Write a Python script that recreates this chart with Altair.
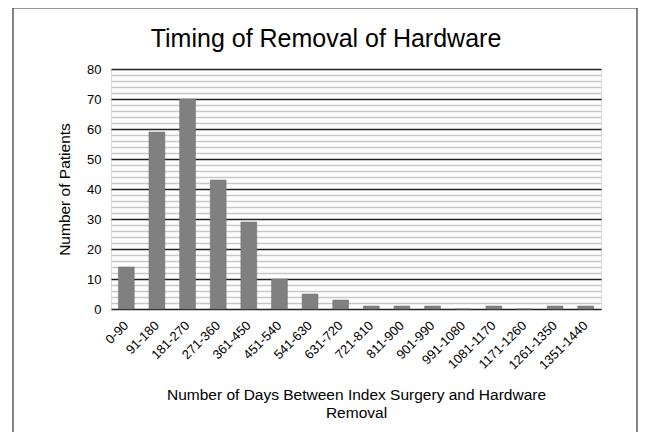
import altair as alt
import pandas as pd

categories = ["0-90", "91-180", "181-270", "271-360", "361-450", "451-540",
              "541-630", "631-720", "721-810", "811-900", "901-990", "991-1080",
              "1081-1170", "1171-1260", "1261-1350", "1351-1440"]
patients = [14, 59, 70, 43, 29, 10, 5, 3, 1, 1, 1, 0, 1, 0, 1, 1]
y_ticks = list(range(0, 81, 2))
chart_title = ["Timing of Removal of Hardware"]

df = pd.DataFrame({"range": categories, "count": patients})
FONT = "Liberation Sans"

bars = alt.Chart(df).mark_bar(color="#808080", stroke="#707070", strokeWidth=0.5).encode(
    x=alt.X("range:N", sort=categories,
            scale=alt.Scale(paddingInner=0.48, paddingOuter=0.24),
            axis=alt.Axis(title=["Number of Days Between Index Surgery and Hardware", "Removal"],
                          labelAngle=-45, labelAlign="right", labelBaseline="middle",
                          labelFontSize=13, labelPadding=14, ticks=False, domain=False,
                          titleFontSize=15.5, titleFontWeight="normal", titlePadding=16,
                          labelColor="#000", titleColor="#000", labelFont=FONT, titleFont=FONT)),
    y=alt.Y("count:Q", scale=alt.Scale(domain=[0, 80], nice=False),
            axis=alt.Axis(title="Number of Patients", values=y_ticks,
                          labelExpr="datum.value % 10 === 0 ? datum.label : ''",
                          labelOverlap=False, labelFontSize=13, labelPadding=10,
                          ticks=False, domain=False,
                          grid=True,
                          gridColor={"condition": {"test": "datum.value % 10 === 0", "value": "#222222"}, "value": "#c8c8c8"},
                          gridWidth={"condition": {"test": "datum.value % 10 === 0", "value": 1.5}, "value": 1.5},
                          titleFontSize=15.5, titleFontWeight="normal", titlePadding=14,
                          labelColor="#000", titleColor="#000", labelFont=FONT, titleFont=FONT)),
)

frame = alt.Chart(pd.DataFrame({"a": [0]})).mark_rect(fill=None, stroke="#333333", strokeWidth=1.2, clip=False).encode(
    x=alt.value(-98), x2=alt.value(526), y=alt.value(-61), y2=alt.value(400)
)

title = alt.Chart(pd.DataFrame({"t": chart_title})).mark_text(
    font=FONT, fontSize=25, color="#000", align="center", baseline="alphabetic"
).encode(text="t:N", x=alt.value(215), y=alt.value(-22))

chart = alt.layer(frame, bars, title).properties(
    width=490, height=240,
    autosize=alt.AutoSizeParams(type="none"),
    padding={"left": 103, "top": 61, "right": 37, "bottom": 123},
).configure_view(stroke="#000000", strokeWidth=1.5).configure(background="white")

chart.save("out.html", embed_options={"renderer": "svg", "actions": False})
